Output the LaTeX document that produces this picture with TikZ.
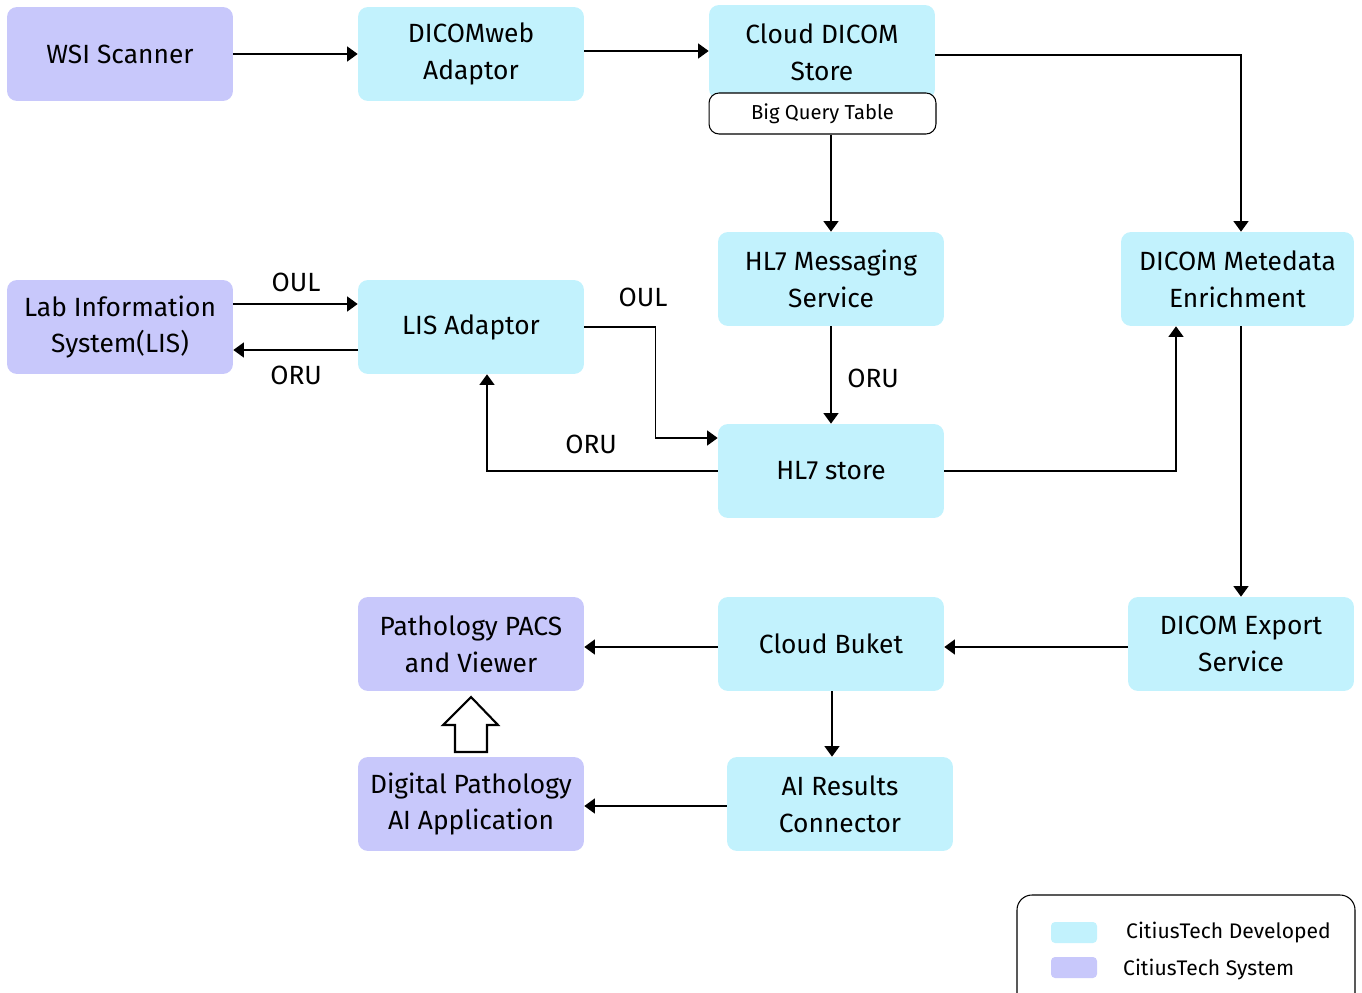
\documentclass[tikz,border=0pt]{standalone}
\usepackage{fontspec}
\setmainfont{Fira Sans}
\usepackage{tikz}
\usetikzlibrary{calc,
                arrows.meta
                }
\definecolor{devcyan}{HTML}{C2F2FD}
\definecolor{syspurple}{HTML}{C8C8FB}

\begin{document}
\begin{tikzpicture}[x=0.02cm, y=-0.02cm,
    box/.style={rounded corners=0.2cm, minimum width=4.52cm, minimum height=1.88cm,
        align=center, font=\fontsize{15}{21}\selectfont, inner sep=0pt},
    devbox/.style={box, fill=devcyan},
    sysbox/.style={box, fill=syspurple},
    flow/.style={line width=0.9pt, -{Triangle[length=6pt,width=8.5pt]}},
    msg/.style={font=\fontsize{15}{18}\selectfont}
    ]
    \useasboundingbox (0,0) rectangle (1362,993);
    \clip (0,0) rectangle (1362,993);

    % boxes
    \node[sysbox] (wsi) at (120,54) {WSI Scanner};
    \node[devbox] (dcmweb) at (471,54) {DICOMweb\\Adaptor};
    \node[devbox] (store) at (822,52) {Cloud DICOM\\Store};
    \node[draw, fill=white, rounded corners=0.2cm, line width=0.6pt,
        minimum width=4.54cm, minimum height=0.82cm,
        font=\fontsize{11.5}{14}\selectfont] (bq) at (822.5,113.5) {Big Query Table};
    \node[devbox] (hlmsg) at (831,279) {HL7 Messaging\\Service};
    \node[devbox, minimum width=4.66cm] (meta) at (1237.5,279) {DICOM Metedata\\Enrichment};
    \node[sysbox] (lis) at (120,327) {Lab Information\\System(LIS)};
    \node[devbox] (lisad) at (471,327) {LIS Adaptor};
    \node[devbox] (hlstore) at (831,471) {HL7 store};
    \node[sysbox] (pacs) at (471,644) {Pathology PACS\\and Viewer};
    \node[devbox] (bucket) at (831,644) {Cloud Buket};
    \node[devbox] (export) at (1241,644) {DICOM Export\\Service};
    \node[sysbox] (dpai) at (471,804) {Digital Pathology\\AI Application};
    \node[devbox] (airc) at (840,804) {AI Results\\Connector};

    % connectors
    \draw[flow] (wsi) -- (dcmweb);
    \draw[flow] ($(dcmweb.east)+(0,-3)$) -- ($(store.west)+(0,-1)$);
    \draw[flow] ($(store.east)+(0,3)$) -| (meta.north -| export.north);
    \draw[flow] (hlmsg.north |- bq.south) -- (hlmsg.north);
    \draw[flow] (hlmsg) -- (hlstore);
    \draw[flow] ($(lis.east)+(0,-23)$) -- ($(lisad.west)+(0,-23)$);
    \draw[flow] ($(lisad.west)+(0,23)$) -- ($(lis.east)+(0,23)$);
    \draw[flow] (lisad.east) -- ++(71,0) |- ($(hlstore.west)+(0,-33)$);
    \draw[flow] (hlstore.west) -| ($(lisad.south)+(16,0)$);
    \draw[flow] (hlstore.east) -| ($(meta.south)+(-61.5,0)$);
    \draw[flow] (meta.south -| export.north) -- (export.north);
    \draw[flow] ($(export.west)+(0,3)$) -- ($(bucket.east)+(0,3)$);
    \draw[flow] ($(bucket.west)+(0,3)$) -- ($(pacs.east)+(0,3)$);
    \draw[flow] ($(bucket.south)+(1,0)$) -- ($(bucket.south |- airc.north)+(1,0)$);
    \draw[flow] ($(airc.west)+(0,2)$) -- ($(dpai.east)+(0,2)$);

    % hollow arrow
    \draw[line width=1.2pt, fill=white] (471,697) -- (498,725) -- (487,725) -- (487,752)
        -- (455,752) -- (455,725) -- (443,725) -- cycle;

    % message labels
    \node[msg] (oul1) at (296,282) {OUL};
    \node[msg] (oru1) at (296,375) {ORU};
    \node[msg] (oul2) at (643,297) {OUL};
    \node[msg] (oru2) at (591,444) {ORU};
    \node[msg] (oru3) at (873,378) {ORU};

    % legend
    \draw[line width=0.6pt, rounded corners=0.3cm] (1017,1040) rectangle (1355,895);
    \fill[devcyan, rounded corners=0.08cm] (1051,922) rectangle (1097,943);
    \fill[syspurple, rounded corners=0.08cm] (1051,957) rectangle (1097,978);
    \node[anchor=west, font=\fontsize{12}{14}\selectfont] (ldev) at (1120,933) {CitiusTech Developed};
    \node[anchor=west, font=\fontsize{12}{14}\selectfont] (lsys) at (1117,970) {CitiusTech System};
\end{tikzpicture}
\end{document}
